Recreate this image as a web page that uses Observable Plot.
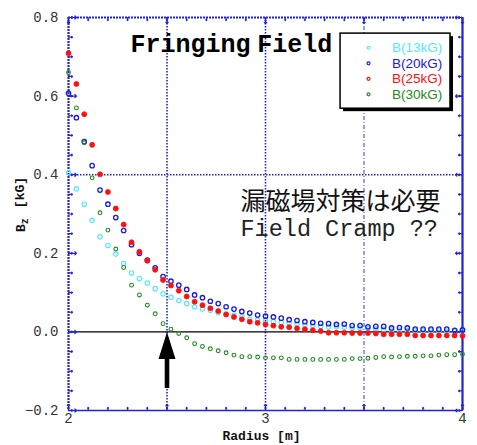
<!DOCTYPE html>
<html><head><meta charset="utf-8">
<script src="https://cdn.jsdelivr.net/npm/d3@7"></script>
<script src="https://cdn.jsdelivr.net/npm/@observablehq/plot@0.6"></script>
<style>body{margin:0;background:#fff} #chart{width:477px;height:445px}</style>
</head><body><div id="chart"></div>
<script>
// ---- data ----
const radius = [2.00,2.04,2.08,2.12,2.16,2.20,2.24,2.28,2.32,2.36,2.40,2.44,2.48,2.52,2.56,2.60,2.64,2.68,2.72,2.76,2.80,2.84,2.88,2.92,2.96,3.00,3.04,3.08,3.12,3.16,3.20,3.24,3.28,3.32,3.36,3.40,3.44,3.48,3.52,3.56,3.60,3.64,3.68,3.72,3.76,3.80,3.84,3.88,3.92,3.96,4.00];
const b13 = [0.405,0.364,0.325,0.284,0.242,0.220,0.198,0.174,0.150,0.136,0.124,0.110,0.097,0.088,0.080,0.072,0.064,0.058,0.055,0.049,0.046,0.042,0.039,0.032,0.030,0.028,0.026,0.024,0.022,0.020,0.017,0.015,0.014,0.013,0.013,0.012,0.010,0.010,0.008,0.007,0.006,0.005,0.005,0.004,0.004,0.003,0.003,0.003,0.002,0.002,0.002];
const b20 = [0.607,0.545,0.484,0.423,0.361,0.325,0.291,0.258,0.222,0.200,0.183,0.163,0.141,0.129,0.119,0.108,0.094,0.087,0.078,0.072,0.064,0.058,0.052,0.048,0.043,0.040,0.038,0.035,0.031,0.029,0.026,0.024,0.022,0.021,0.019,0.020,0.016,0.016,0.013,0.014,0.014,0.010,0.011,0.010,0.007,0.007,0.007,0.007,0.007,0.004,0.005];
const b25 = [0.709,0.631,0.554,0.476,0.401,0.356,0.314,0.273,0.228,0.204,0.181,0.158,0.132,0.118,0.105,0.090,0.077,0.068,0.060,0.053,0.044,0.038,0.032,0.026,0.023,0.019,0.016,0.013,0.012,0.009,0.007,0.004,0.002,-0.002,-0.002,-0.002,-0.003,-0.003,-0.003,-0.004,-0.006,-0.006,-0.006,-0.006,-0.009,-0.009,-0.009,-0.009,-0.009,-0.009,-0.010];
const b30 = [0.660,0.570,0.481,0.392,0.303,0.259,0.211,0.164,0.119,0.094,0.068,0.046,0.021,0.007,-0.004,-0.015,-0.030,-0.037,-0.043,-0.048,-0.053,-0.059,-0.063,-0.063,-0.064,-0.066,-0.066,-0.066,-0.070,-0.070,-0.070,-0.070,-0.070,-0.070,-0.070,-0.070,-0.068,-0.068,-0.067,-0.065,-0.063,-0.064,-0.063,-0.062,-0.062,-0.061,-0.061,-0.059,-0.058,-0.058,-0.057];
const seriesNames = ["B(13kG)","B(20kG)","B(25kG)","B(30kG)"];
const xTickValues = [2,3,4];
const yTickValues = [-0.2,0,0.2,0.4,0.6,0.8];
const titleWords = ["Fringing","Field"];
const noteJa = "漏磁場対策は必要";
const noteEn = "Field Cramp ??";
const xLabel = "Radius [m]";
const yLabelParts = ["B", "z", "[kG]"];
const arrowAt = [{r: 2.5, b: 0}];

// ---- styles ----
const BLUE = "#2222d8";
const seriesStyle = {
  "B(13kG)": {stroke:"#55e8ff", fill:"none", r:2.2, sw:1.2},
  "B(20kG)": {stroke:"#1a1ae0", fill:"none", r:2.2, sw:1.3},
  "B(25kG)": {stroke:"#ff1010", fill:"#ff1010", r:2.5, sw:0.8},
  "B(30kG)": {stroke:"#228a22", fill:"none", r:1.9, sw:1.1}
};
const seriesValues = [b13, b20, b25, b30];

const dotMarks = seriesNames.map((name, k) => {
  const st = seriesStyle[name];
  const rows = radius.map((r, i) => ({r, b: seriesValues[k][i]}));
  return Plot.dot(rows, {x: "r", y: "b", r: st.r, stroke: st.stroke, fill: st.fill, strokeWidth: st.sw});
});
// draw order: cyan, blue, green, red
const ordered = [dotMarks[0], dotMarks[1], dotMarks[3], dotMarks[2]];

const xMinor = d3.range(21).map(i => +(2 + i * 0.1).toFixed(2));
const xMajor = [2, 2.5, 3, 3.5, 4];
const yMinor = d3.range(21).map(i => +(-0.2 + i * 0.05).toFixed(3));
const yMajor = [-0.2, 0, 0.2, 0.4, 0.6, 0.8];

const tick = (data, ch, anchor, rot, len) =>
  Plot.vector(data, {[ch]: d => d, frameAnchor: anchor, rotate: rot, length: len, anchor: "start", stroke: BLUE, strokeWidth: 1.2});

// legend geometry (data coordinates)
const lgX1 = 3.381, lgX2 = 3.939, lgY1 = 0.568, lgY2 = 0.759;
const lgRows = seriesNames.map((name, k) => ({name, y: 0.723 - k * 0.0395, color: seriesStyle[name].stroke}));

const arrowShape = {
  draw(ctx, l) {
    const h = 27, w = 8.5, s = 2.3;
    ctx.moveTo(-s, 0); ctx.lineTo(s, 0); ctx.lineTo(s, -(l - h)); ctx.lineTo(w, -(l - h));
    ctx.lineTo(0, -l); ctx.lineTo(-w, -(l - h)); ctx.lineTo(-s, -(l - h)); ctx.closePath();
  }
};

const Y_LABEL_TEXT = yLabelParts.join(" ");

const chart = Plot.plot({
  width: 477, height: 445,
  marginLeft: 68, marginRight: 15, marginTop: 17, marginBottom: 35,
  style: {background: "white", fontFamily: "Liberation Mono"},
  x: {domain: [2, 4]},
  y: {domain: [-0.2, 0.8]},
  marks: [
    // grid
    Plot.ruleX([2.5, 3], {stroke: BLUE, strokeWidth: 1.6, strokeDasharray: "1.5,1.5"}),
    Plot.ruleX([3.5], {stroke: BLUE, strokeWidth: 0.9, strokeDasharray: "4,2,1,2"}),
    Plot.ruleY([0.4], {stroke: BLUE, strokeWidth: 1.6, strokeDasharray: "1.5,1.5"}),
    Plot.ruleY([0], {stroke: "black", strokeWidth: 1.2}),
    // frame
    Plot.ruleX([2], {stroke: BLUE, strokeWidth: 2.2, strokeDasharray: "2,1"}),
    Plot.ruleY([0.8], {stroke: BLUE, strokeWidth: 2.2, strokeDasharray: "2,1"}),
    Plot.ruleX([4], {stroke: BLUE, strokeWidth: 2.2}),
    Plot.ruleY([-0.2], {stroke: BLUE, strokeWidth: 1.6}),
    // inward ticks
    tick(xMinor, "x", "bottom", 0, 3), tick(xMajor, "x", "bottom", 0, 6),
    tick(xMinor, "x", "top", 180, 3), tick(xMajor, "x", "top", 180, 6),
    tick(yMinor, "y", "left", 90, 4), tick(yMajor, "y", "left", 90, 8),
    tick(yMinor, "y", "right", -90, 4), tick(yMajor, "y", "right", -90, 7),
    // axes labels
    Plot.axisY(yTickValues, {tickSize: 0, tickPadding: 10, tickFormat: d3.format(".1f"), fontSize: 14, fontFamily: "Liberation Mono", fill: "#333", label: null}),
    Plot.axisX(xTickValues, {tickSize: 0, tickPadding: 3, tickFormat: d => String(d), fontSize: 14, fontFamily: "Liberation Mono", fill: "#333", label: null}),
    Plot.text([xLabel], {frameAnchor: "bottom", dx: -4, dy: 29, fontSize: 13, fontWeight: "bold", fontFamily: "Liberation Mono", fill: "#111"}),
    Plot.text([Y_LABEL_TEXT], {frameAnchor: "left", rotate: -90, dx: -48, dy: 18, fontSize: 13, fontWeight: "bold", fontFamily: "Liberation Mono", fill: "#111"}),
    // data
    ...ordered,
    // arrow
    Plot.vector(arrowAt, {x: "r", y: "b", length: 56, rotate: 0, anchor: "end", shape: arrowShape, fill: "black", stroke: "none"}),
    // title and notes
    Plot.text([{t: titleWords[0], x: 2.315, y: 0.712}], {x: "x", y: "y", text: "t", textAnchor: "start", lineAnchor: "bottom", fontSize: 25, fontWeight: "bold", fontFamily: "Liberation Mono", fill: "black"}),
    Plot.text([{t: titleWords[1], x: 2.958, y: 0.712}], {x: "x", y: "y", text: "t", textAnchor: "start", lineAnchor: "bottom", fontSize: 25, fontWeight: "bold", fontFamily: "Liberation Mono", fill: "black"}),
    Plot.text([{t: noteJa, x: 2.873, y: 0.31}], {x: "x", y: "y", text: "t", textAnchor: "start", lineAnchor: "bottom", fontSize: 25, fontFamily: "Noto Sans CJK JP", fill: "#111"}),
    Plot.text([{t: noteEn, x: 2.873, y: 0.245}], {x: "x", y: "y", text: "t", textAnchor: "start", lineAnchor: "bottom", fontSize: 23.5, fontFamily: "Liberation Mono", fill: "#222"}),
    // legend
    Plot.rect([0], {x1: lgX1, x2: lgX2, y1: lgY1, y2: lgY2, fill: "black", dx: 3, dy: 3}),
    Plot.rect([0], {x1: lgX1, x2: lgX2, y1: lgY1, y2: lgY2, fill: "white", stroke: "black", strokeWidth: 1.5}),
    Plot.dot(lgRows, {x: 3.523, y: "y", r: 1.5, stroke: "color", fill: "none", strokeWidth: 1.2}),
    Plot.text(lgRows, {x: 3.897, y: "y", text: "name", fill: "color", textAnchor: "end", fontSize: 13.5, fontFamily: "Liberation Sans"})
  ]
});
document.getElementById("chart").appendChild(chart);

// subscript z in the y label
d3.select(chart).selectAll("text").each(function() {
  if (this.textContent === Y_LABEL_TEXT) {
    const t = d3.select(this);
    t.text(null);
    t.append("tspan").text(yLabelParts[0]);
    t.append("tspan").attr("dy", "0.35em").attr("font-size", "10").text(yLabelParts[1]);
    t.append("tspan").attr("dy", "-0.35em").attr("dx", "10").text(yLabelParts[2]);
  }
});
</script>
</body></html>
